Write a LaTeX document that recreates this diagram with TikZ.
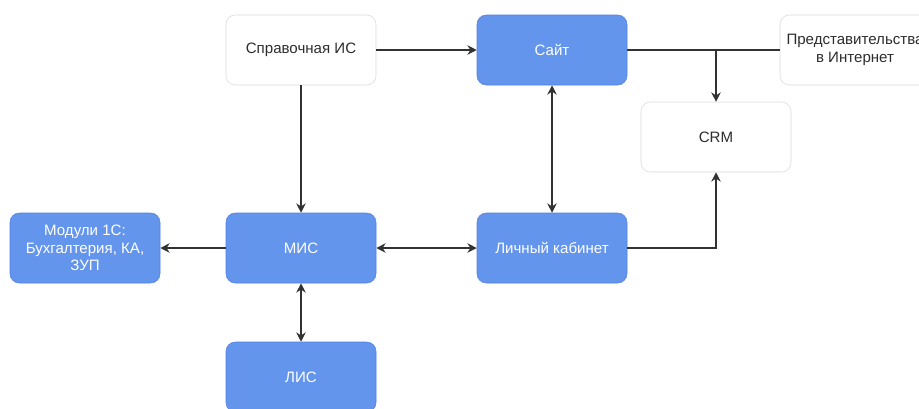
\documentclass[tikz,border=0pt]{standalone}
\usepackage{fontspec}
\setmainfont{Liberation Sans}
\usepackage{tikz}
\usetikzlibrary{arrows.meta,positioning}
\definecolor{mainblue}{RGB}{100,149,237}
\definecolor{mainblueline}{RGB}{82,128,228}
\definecolor{extgrey}{RGB}{218,218,218}
\definecolor{linkcolor}{RGB}{50,50,50}
\definecolor{textgrey}{RGB}{45,45,45}

\begin{document}
\begin{tikzpicture}[x=0.75pt,y=-0.75pt,
    sysbox/.style={rectangle, rounded corners=7pt, minimum width=112.5pt, minimum height=52.5pt,
        align=center, font=\fontsize{11.3}{13.2}\selectfont},
    mainsys/.style={sysbox, fill=mainblue, draw=mainblueline, text=white},
    extsys/.style={sysbox, fill=white, draw=extgrey, text=textgrey},
    link/.style={draw=linkcolor, line width=1.2pt, -{Stealth[length=7pt,width=7pt]}},
    twolink/.style={link, {Stealth[length=7pt,width=7pt]}-{Stealth[length=7pt,width=7pt]}}]
\useasboundingbox (0,0) rectangle (919,408);

% systems
\node[extsys] (spravka) at (301,50) {Справочная ИС};
\node[mainsys] (site) at (552,50) {Сайт};
\node[extsys] (web) at (855,50) {Представительства\\в Интернет};
\node[extsys] (crm) at (716,137) {CRM};
\node[mainsys] (modules) at (85,248) {Модули 1С:\\Бухгалтерия, КА,\\ЗУП};
\node[mainsys] (mis) at (301,248) {МИС};
\node[mainsys] (cabinet) at (552,248) {Личный кабинет};
\node[mainsys] (lis) at (301,377) {ЛИС};

% links
\draw[link] (spravka) -- (site);
\draw[link] (spravka) -- (mis);
\draw[twolink] (site) -- (cabinet);
\draw[twolink] (mis) -- (cabinet);
\draw[link] (mis) -- (modules);
\draw[twolink] (mis) -- (lis);
\draw[draw=linkcolor, line width=1.2pt] (site) -- (web);
\coordinate (branch) at (crm.north |- site.east);
\draw[link] (branch) -- (crm);
\draw[link] (cabinet) -| (crm);
\end{tikzpicture}
\end{document}
